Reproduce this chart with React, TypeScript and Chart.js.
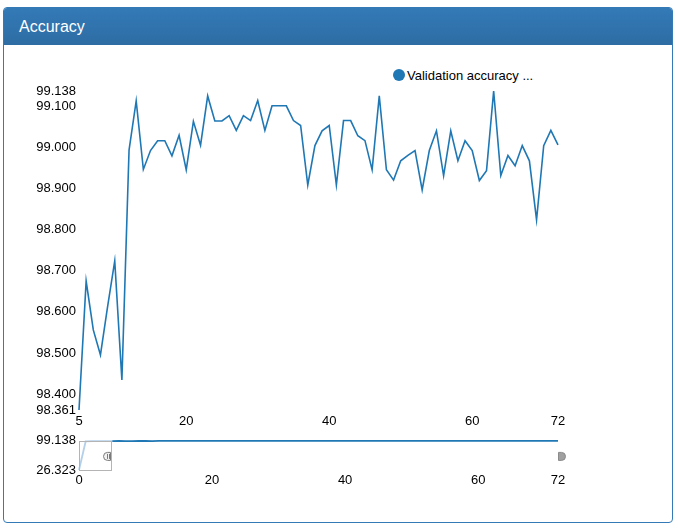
import React, { useEffect, useRef } from "react";
import { Chart, registerables } from "chart.js";

Chart.register(...registerables);

// ---- data ----
const epochs = [
  5, 6, 7, 8, 9, 10, 11, 12, 13, 14, 15, 16, 17, 18, 19, 20, 21, 22, 23, 24, 25, 26, 27, 28,
  29, 30, 31, 32, 33, 34, 35, 36, 37, 38, 39, 40, 41, 42, 43, 44, 45, 46, 47, 48, 49, 50, 51,
  52, 53, 54, 55, 56, 57, 58, 59, 60, 61, 62, 63, 64, 65, 66, 67, 68, 69, 70, 71, 72,
];
const validationAccuracy = [
  98.361, 98.675, 98.556, 98.495, 98.613, 98.724, 98.434, 98.994, 99.114, 98.947, 98.993,
  99.017, 99.017, 98.98, 99.03, 98.946, 99.064, 99.006, 99.126, 99.065, 99.065, 99.078,
  99.042, 99.078, 99.066, 99.115, 99.042, 99.102, 99.102, 99.102, 99.066, 99.054, 98.909,
  99.005, 99.041, 99.054, 98.909, 99.066, 99.066, 99.029, 99.017, 98.946, 99.126, 98.946,
  98.921, 98.968, 98.981, 98.993, 98.897, 98.993, 99.041, 98.932, 99.041, 98.968, 99.017,
  98.993, 98.92, 98.944, 99.138, 98.932, 98.981, 98.956, 99.005, 98.968, 98.824, 99.005,
  99.042, 99.007,
];
// epochs before the selected range (only visible in the navigator)
const earlyEpochs = [0, 1, 2, 3, 4];
const earlyAccuracy = [26.323, 97.5, 98.1, 98.3, 98.4];

const mainYTicks = [98.361, 98.4, 98.5, 98.6, 98.7, 98.8, 98.9, 99.0, 99.1, 99.138];
const mainXTicks = [5, 20, 40, 60, 72];
const navYTicks = [26.323, 99.138];
const navXTicks = [0, 20, 40, 60, 72];

const seriesLabel = "Validation accuracy ...";
const rangeStart = 5;
const rangeEnd = 72;

const LINE = "#1f77b4";
const LINE_FADED = "#b3d0ea";
const FONT = "Arial, 'Liberation Sans', Helvetica, sans-serif";

function fixTicks(list: number[]) {
  return (scale: any) => {
    scale.ticks = list.map((v) => ({ value: v }));
  };
}

const navigatorPlugin = {
  id: "navigatorOverlay",
  afterDatasetsDraw(chart: any) {
    const { ctx, chartArea, scales } = chart;
    const x0 = scales.x.getPixelForValue(scales.x.min);
    const xs = scales.x.getPixelForValue(rangeStart);
    const xe = scales.x.getPixelForValue(rangeEnd);
    const top = chartArea.top;
    const bottom = chartArea.bottom;
    const cy = (top + bottom) / 2 + 1;
    ctx.save();
    // unselected region box
    ctx.strokeStyle = "#b4b4b4";
    ctx.lineWidth = 1;
    ctx.strokeRect(Math.round(x0) + 0.5, Math.round(top) + 0.5, Math.round(xs - x0) - 1, Math.round(bottom - top));
    // left handle (D facing left)
    const lx = Math.round(xs) - 2;
    ctx.beginPath();
    ctx.moveTo(lx + 0.5, cy - 4);
    ctx.lineTo(lx - 2.5, cy - 4);
    ctx.arc(lx - 2.5, cy, 4, -Math.PI / 2, Math.PI / 2, true);
    ctx.lineTo(lx + 0.5, cy + 4);
    ctx.closePath();
    ctx.fillStyle = "#f2f2f2";
    ctx.fill();
    ctx.strokeStyle = "#7a7a7a";
    ctx.stroke();
    ctx.beginPath();
    ctx.moveTo(lx - 2.5, cy - 2.5);
    ctx.lineTo(lx - 2.5, cy + 2.5);
    ctx.moveTo(lx - 0.5, cy - 2.5);
    ctx.lineTo(lx - 0.5, cy + 2.5);
    ctx.stroke();
    // right handle (D facing right)
    const rx = Math.round(xe);
    ctx.beginPath();
    ctx.moveTo(rx + 0.5, cy - 4);
    ctx.lineTo(rx + 3.5, cy - 4);
    ctx.arc(rx + 3.5, cy, 4, -Math.PI / 2, Math.PI / 2, false);
    ctx.lineTo(rx + 0.5, cy + 4);
    ctx.closePath();
    ctx.fillStyle = "#a0a0a0";
    ctx.fill();
    ctx.strokeStyle = "#8a8a8a";
    ctx.stroke();
    ctx.restore();
  },
};

function tickFont() {
  return { family: FONT, size: 13 };
}

export default function App() {
  const mainRef = useRef<HTMLCanvasElement>(null);
  const navRef = useRef<HTMLCanvasElement>(null);

  useEffect(() => {
    const mainData = epochs.map((e, i) => ({ x: e, y: validationAccuracy[i] }));
    const navData = earlyEpochs
      .map((e, i) => ({ x: e, y: earlyAccuracy[i] }))
      .concat(mainData);

    const main = new Chart(mainRef.current as HTMLCanvasElement, {
      type: "line",
      data: {
        datasets: [
          {
            label: seriesLabel,
            data: mainData,
            borderColor: LINE,
            backgroundColor: LINE,
            borderWidth: 1.6,
            pointRadius: 0,
            tension: 0,
            fill: false,
            clip: false,
          },
        ],
      },
      options: {
        animation: false,
        responsive: false,
        events: [],
        layout: { padding: { left: 0, right: 120, top: 31, bottom: 0 } },
        plugins: { legend: { display: false }, tooltip: { enabled: false } },
        scales: {
          x: {
            type: "linear",
            min: rangeStart,
            max: rangeEnd,
            grid: { display: false, drawTicks: false },
            border: { display: false },
            afterBuildTicks: fixTicks(mainXTicks),
            afterFit: (s: any) => {
              s.height = 25;
            },
            ticks: {
              autoSkip: false,
              maxRotation: 0,
              padding: 4,
              color: "#000",
              font: tickFont(),
              callback: (v: any) => String(v),
            },
          },
          y: {
            min: 98.361,
            max: 99.138,
            grid: { display: false, drawTicks: false },
            border: { display: false },
            afterBuildTicks: fixTicks(mainYTicks),
            afterFit: (s: any) => {
              s.width = 79;
            },
            ticks: {
              autoSkip: false,
              padding: 3,
              color: "#000",
              font: tickFont(),
              callback: (v: any) => Number(v).toFixed(3),
            },
          },
        },
      },
    });

    const nav = new Chart(navRef.current as HTMLCanvasElement, {
      type: "line",
      data: {
        datasets: [
          {
            label: seriesLabel,
            data: navData,
            borderColor: LINE,
            borderWidth: 1.8,
            pointRadius: 0,
            tension: 0,
            fill: false,
            clip: false,
            segment: {
              borderColor: (c: any) => (c.p0.parsed.x < rangeStart ? LINE_FADED : LINE),
            },
          },
        ],
      },
      options: {
        animation: false,
        responsive: false,
        events: [],
        layout: { padding: { left: 0, right: 120, top: 10, bottom: 0 } },
        plugins: { legend: { display: false }, tooltip: { enabled: false } },
        scales: {
          x: {
            type: "linear",
            min: 0,
            max: 72,
            grid: { display: false, drawTicks: false },
            border: { display: false },
            afterBuildTicks: fixTicks(navXTicks),
            afterFit: (s: any) => {
              s.height = 30;
            },
            ticks: {
              autoSkip: false,
              maxRotation: 0,
              padding: 3,
              color: "#000",
              font: tickFont(),
              callback: (v: any) => String(v),
            },
          },
          y: {
            min: 26.323,
            max: 99.138,
            grid: { display: false, drawTicks: false },
            border: { display: false },
            afterBuildTicks: fixTicks(navYTicks),
            afterFit: (s: any) => {
              s.width = 79;
            },
            ticks: {
              autoSkip: false,
              padding: 3,
              color: "#000",
              font: tickFont(),
              callback: (v: any) => Number(v).toFixed(3),
            },
          },
        },
      },
      plugins: [navigatorPlugin],
    });

    return () => {
      main.destroy();
      nav.destroy();
    };
  }, []);

  return (
    <div style={{ position: "absolute", left: 0, top: 0, width: 678, height: 529, background: "#fff", fontFamily: FONT }}>
      <div
        style={{
          position: "absolute",
          left: 3,
          top: 7,
          width: 670,
          height: 516,
          boxSizing: "border-box",
          border: "1px solid #337ab7",
          borderRadius: 4,
          background: "#fff",
          overflow: "hidden",
        }}
      >
        <div
          style={{
            height: 34,
            paddingTop: 2,
            lineHeight: "34px",
            paddingLeft: 15,
            color: "#fff",
            fontSize: 16,
            background: "linear-gradient(to bottom, #337ab7 0%, #2e6da4 100%)",
            borderBottom: "1px solid #2e6da4",
            boxSizing: "content-box",
          }}
        >
          Accuracy
        </div>
      </div>
      <div
        style={{
          position: "absolute",
          left: 393,
          top: 65,
          height: 20,
          display: "flex",
          alignItems: "center",
          fontSize: 13,
          color: "#000",
          whiteSpace: "nowrap",
        }}
      >
        <span
          style={{
            display: "inline-block",
            width: 12,
            height: 12,
            borderRadius: 6,
            background: LINE,
            marginRight: 2,
          }}
        />
        <span>{seriesLabel}</span>
      </div>
      <canvas
        ref={mainRef}
        width={678}
        height={375}
        style={{ position: "absolute", left: 0, top: 60, width: 678, height: 375 }}
      />
      <canvas
        ref={navRef}
        width={678}
        height={70}
        style={{ position: "absolute", left: 0, top: 430, width: 678, height: 70 }}
      />
    </div>
  );
}
